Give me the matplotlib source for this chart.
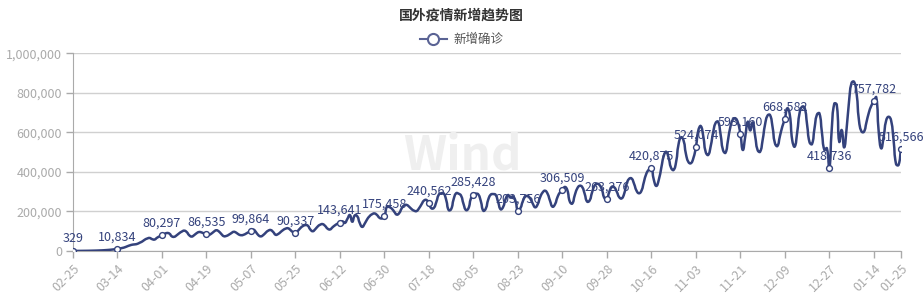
import matplotlib
matplotlib.use("Agg")
import matplotlib.pyplot as plt
import numpy as np
import pandas as pd
from matplotlib.path import Path
from matplotlib.patches import PathPatch
from matplotlib.lines import Line2D
from matplotlib.ticker import FuncFormatter

plt.rcParams["font.family"] = ["Noto Sans CJK SC", "DejaVu Sans"]

# daily new confirmed cases outside China, 2020-02-25 .. 2021-01-25
dates = pd.date_range("2020-02-25", "2021-01-25", freq="D").strftime("%m-%d").tolist()
new_cases = [
    329, 420, 520, 650, 800, 950, 1100, 1400, 1700, 2000,
    2400, 2900, 3400, 4200, 5100, 6200, 7500, 9000, 10834, 13000,
    15500, 19000, 24000, 28500, 32000, 33500, 36000, 42000, 48000, 57000,
    63000, 66000, 60000, 58000, 67000, 74000, 80297, 86000, 91000, 88000,
    74000, 72000, 80000, 90000, 98000, 103000, 96000, 80000, 73000, 80000,
    90000, 96000, 94000, 89000, 86535, 82000, 88000, 98000, 105000, 99000,
    86000, 75000, 76000, 82000, 90000, 97000, 93000, 84000, 80000, 82000,
    88000, 95000, 99864, 108000, 96000, 80000, 74000, 81000, 93000, 103000,
    106000, 96000, 82000, 86000, 96000, 106000, 113000, 115000, 106000, 95000,
    90337, 102000, 116000, 126000, 131000, 128000, 109000, 100000, 110000, 124000,
    133000, 136000, 127000, 113000, 109000, 120000, 130000, 138000, 143641, 150000,
    142000, 162000, 182000, 148000, 180000, 176000, 142000, 122000, 138000, 160000,
    176000, 186000, 190000, 182000, 168000, 165000, 175458, 224000, 222000, 214000,
    198000, 184000, 192000, 216000, 231000, 233000, 224000, 212000, 204000, 202000,
    216000, 236000, 255000, 258000, 240562, 216000, 218000, 248000, 285000, 292000,
    291000, 258000, 207000, 212000, 262000, 292000, 290000, 280000, 238000, 207000,
    216000, 266000, 285428, 290000, 286000, 252000, 204000, 214000, 260000, 285000,
    288000, 284000, 248000, 211000, 222000, 262000, 283000, 270000, 276000, 254000,
    203756, 216000, 252000, 275000, 278000, 265000, 240000, 221000, 236000, 272000,
    296000, 305000, 290000, 254000, 224000, 236000, 272000, 296000, 306509, 324000,
    308000, 250000, 240000, 282000, 316000, 330000, 324000, 290000, 250000, 255000,
    296000, 330000, 340000, 334000, 310000, 268000, 263276, 300000, 325000, 322000,
    300000, 272000, 266000, 290000, 340000, 365000, 367000, 340000, 305000, 292000,
    305000, 350000, 392000, 412000, 420875, 360000, 329000, 360000, 420000, 480000,
    502000, 470000, 420000, 410000, 450000, 540000, 575000, 560000, 490000, 450000,
    444000, 470000, 524074, 610000, 632000, 580000, 500000, 486000, 530000, 600000,
    648000, 654000, 590000, 510000, 497000, 560000, 630000, 665000, 671000, 650000,
    593160, 511000, 580000, 654000, 610000, 650000, 580000, 510000, 502000, 560000,
    640000, 685000, 688000, 630000, 545000, 531000, 580000, 630000, 668582, 722000,
    690000, 560000, 528000, 600000, 700000, 730000, 725000, 640000, 550000, 541000,
    620000, 690000, 696000, 600000, 511000, 520000, 418736, 620000, 745000, 740000,
    553000, 612000, 524000, 620000, 760000, 850000, 856000, 800000, 660000, 605000,
    603000, 650000, 700000, 735000, 757782, 777000, 600000, 519000, 580000, 660000,
    679000, 660000, 560000, 440000, 435000, 516566,
]
assert len(new_cases) == len(dates)

label_idx = list(range(0, len(dates), 18)) + [len(dates) - 1]

line_color = "#34427c"
axis_color = "#aaaaaa"
grid_color = "#d0d0d0"

fig = plt.figure(figsize=(9.23, 2.97), dpi=100)
ax = fig.add_axes([73 / 923, 1 - 251 / 297, 828 / 923, 197.7 / 297])

x = np.arange(len(dates))
y = np.array(new_cases, dtype=float)
ax.set_xlim(0, len(dates) - 1)
ax.set_ylim(0, 1000000)

# smooth line (cubic bezier through every point, like echarts smooth: true)
pts = ax.transData.transform(np.column_stack([x, y]))
smooth = 0.5
verts = [pts[0]]
codes = [Path.MOVETO]
cps = []
for i in range(len(pts)):
    prev = pts[i - 1] if i > 0 else pts[i]
    nxt = pts[i + 1] if i < len(pts) - 1 else pts[i]
    v = (nxt - prev) * smooth
    d0 = np.hypot(*(pts[i] - prev))
    d1 = np.hypot(*(nxt - pts[i]))
    s = d0 + d1 if d0 + d1 > 0 else 1
    cps.append((pts[i] - v * d0 / s, pts[i] + v * d1 / s))
for i in range(len(pts) - 1):
    verts += [cps[i][1], cps[i + 1][0], pts[i + 1]]
    codes += [Path.CURVE4] * 3
verts = ax.transData.inverted().transform(np.array(verts))
ax.add_patch(PathPatch(Path(verts, codes), fill=False, edgecolor=line_color,
                       lw=1.8, zorder=3, capstyle="round", joinstyle="round"))

ax.plot(x[label_idx], y[label_idx], ls="none", marker="o", ms=4.2,
        mfc="white", mec=line_color, mew=1.0, zorder=4)
for i in label_idx:
    ax.annotate(f"{new_cases[i]:,}", (x[i], y[i]), xytext=(0, 4),
                textcoords="offset points", ha="center", va="bottom",
                fontsize=9, color=line_color, zorder=5)

# watermark, below the line
ax.text(462 / 923, 1 - 156 / 297, "Wind", transform=fig.transFigure,
        fontsize=34, fontweight="bold", color="#efefef",
        ha="center", va="center", zorder=1)

ax.set_yticks(np.arange(0, 1000001, 200000))
ax.yaxis.set_major_formatter(FuncFormatter(lambda v, p: f"{int(v):,}"))
ax.set_xticks(label_idx)
ax.set_xticklabels([dates[i] for i in label_idx], rotation=45, ha="right",
                   va="top", rotation_mode="anchor")
ax.grid(axis="y", color=grid_color, lw=1)
ax.set_axisbelow(True)
for side in ("top", "right"):
    ax.spines[side].set_visible(False)
for side in ("left", "bottom"):
    ax.spines[side].set_color(axis_color)
ax.tick_params(axis="y", length=5, width=1, color=axis_color, labelcolor=axis_color,
               labelsize=9, pad=3)
ax.tick_params(axis="x", length=5, width=1, color=axis_color, labelcolor=axis_color,
               labelsize=9, pad=3)
ax.patch.set_alpha(0)

fig.text(0.5, 1 - 16 / 297, "国外疫情新增趋势图", ha="center", va="center",
         fontsize=10, fontweight="bold", color="#333333")
handle = Line2D([], [], color="#5a6394", lw=1.5, marker="o", ms=8,
                mfc="white", mec="#5a6394", mew=1.5)
fig.legend([handle], ["新增确诊"], loc="center", bbox_to_anchor=(0.5, 1 - 39.5 / 297),
           frameon=False, fontsize=9, handlelength=2.2, handletextpad=0.5,
           labelcolor="#555555")

fig.savefig("out.png", dpi=100)
